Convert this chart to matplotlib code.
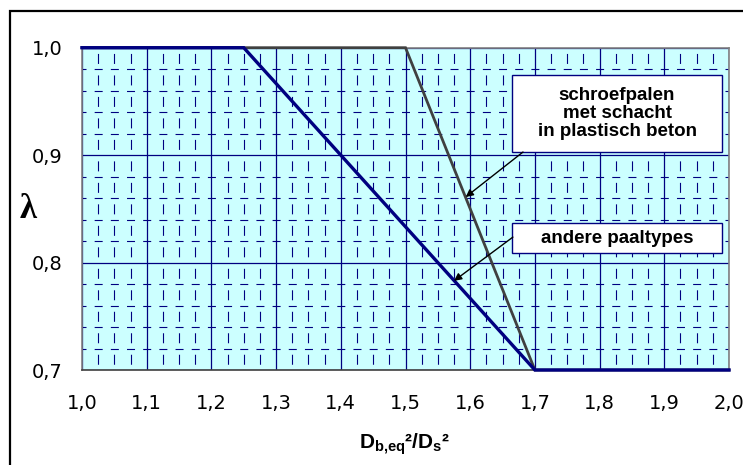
import matplotlib
matplotlib.use("Agg")
import matplotlib.pyplot as plt
from matplotlib.patches import Rectangle
import numpy as np

# lambda as a function of Db,eq^2/Ds^2
x_andere = [1.0, 1.25, 1.7, 2.0]
y_andere = [1.0, 1.0, 0.7, 0.7]
x_schroef = [1.0, 1.5, 1.7, 2.0]
y_schroef = [1.0, 1.0, 0.7, 0.7]

x_ticks = [1.0, 1.1, 1.2, 1.3, 1.4, 1.5, 1.6, 1.7, 1.8, 1.9, 2.0]
y_ticks = [0.7, 0.8, 0.9, 1.0]

label_schroef = "schroefpalen\nmet schacht\nin plastisch beton"
label_andere = "andere paaltypes"

plt.rcParams["lines.scale_dashes"] = False
plt.rcParams["mathtext.fontset"] = "custom"
plt.rcParams["mathtext.bf"] = "Liberation Sans:bold"
plt.rcParams["mathtext.rm"] = "Liberation Sans"

navy = "#000080"
px = 0.72  # points per pixel at 100 dpi

fig = plt.figure(figsize=(7.43, 4.65), dpi=100)
# outer frame (cut off on the right and bottom like the original)
fig.patches.append(Rectangle((10 / 743, -0.1), 1.2, (465 - 11) / 465 + 0.1,
                             transform=fig.transFigure, fill=False,
                             edgecolor="black", lw=1.6))

ax = fig.add_axes([82 / 743, 95 / 465, 647 / 743, 322.3 / 465])
ax.set_facecolor("#CCFFFF")

ax.set_xlim(1.0, 2.0)
ax.set_ylim(0.7, 1.0)
ax.set_xticks(x_ticks)
ax.set_yticks(y_ticks)
ax.set_xticks(np.arange(1.0, 2.0, 0.025), minor=True)
ax.set_yticks(np.arange(0.7, 1.0, 0.02), minor=True)
ax.set_xticklabels([f"{v:.1f}".replace(".", ",") for v in x_ticks])
ax.set_yticklabels([f"{v:.1f}".replace(".", ",") for v in y_ticks])

# minor grid: vertical dashes between the horizontal lines,
# horizontal dashes centred on the vertical minor lines
vp = 0.02 / 0.3 * 322.3      # vertical dash period (px)
hp = 0.025 / 1.0 * 647       # horizontal dash period (px)
vd, hd = 10, 8
ax.grid(which="major", color=navy, lw=0.9)
ax.grid(which="minor", axis="x", color=navy, lw=0.8,
        linestyle=((vp - (vp - vd) / 2) * px, (vd * px, (vp - vd) * px)))
ax.grid(which="minor", axis="y", color=navy, lw=0.8,
        linestyle=(hd / 2 * px, (hd * px, (hp - hd) * px)))
ax.set_axisbelow(True)

ax.tick_params(which="both", length=0)
ax.tick_params(axis="x", pad=17, labelsize=14)
ax.tick_params(axis="y", pad=14, labelsize=14)
for s in ax.spines.values():
    s.set_color("#808080")
    s.set_linewidth(1.2)
ax.spines["bottom"].set_color("#404040")

ax.plot(x_schroef, y_schroef, color="#404040", lw=2, solid_joinstyle="miter",
        clip_on=False, zorder=3)
ax.plot(x_andere, y_andere, color=navy, lw=2.4, solid_joinstyle="miter",
        clip_on=False, zorder=4)

# text boxes
for (x0, y0, w, h) in [(0.6646, 0.676, 0.3246, 0.239), (0.6646, 0.363, 0.3246, 0.093)]:
    ax.add_patch(Rectangle((x0, y0), w, h, transform=ax.transAxes,
                           facecolor="white", edgecolor=navy, lw=1, zorder=5))
ax.text(0.827, 0.7955, label_schroef, transform=ax.transAxes, ha="center",
        va="center", family="Liberation Sans", weight="bold", fontsize=13.5,
        linespacing=1.05, zorder=6)
ax.text(0.827, 0.4095, label_andere, transform=ax.transAxes, ha="center",
        va="center", family="Liberation Sans", weight="bold", fontsize=13.5,
        zorder=6)

arrow = dict(arrowstyle="-|>", color="black", lw=1, mutation_scale=11,
             shrinkA=0, shrinkB=0)
ax.annotate("", xy=(1.593, 0.861), xytext=(1.6816, 0.9029), arrowprops=arrow,
            zorder=6)
ax.annotate("", xy=(1.575, 0.783), xytext=(1.666, 0.8237), arrowprops=arrow,
            zorder=6)

fig.text(28 / 743, 1 - 209 / 465, "λ", family="Liberation Serif", weight="bold",
         fontsize=25, ha="center", va="center")
fig.text(405 / 743, 1 - 444 / 465,
         r"$\mathbf{D}_\mathbf{b{,}eq}\mathbf{²/D}_\mathbf{s}\mathbf{²}$",
         fontsize=15, ha="center", va="center")

fig.savefig("out.png", dpi=100)
